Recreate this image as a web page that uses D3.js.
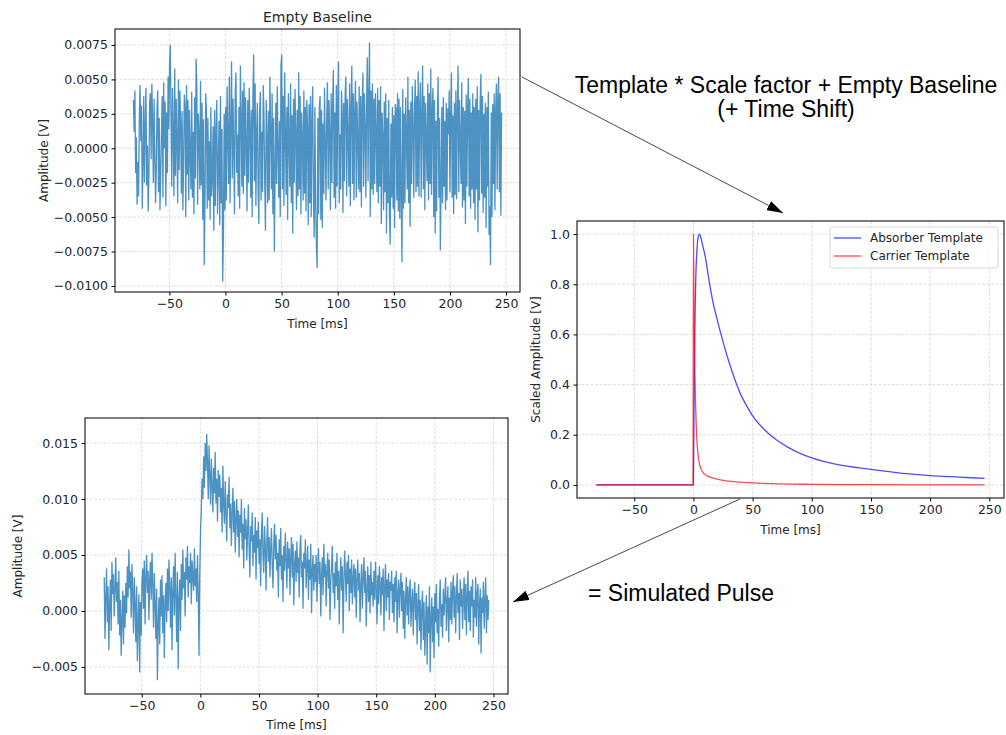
<!DOCTYPE html>
<html>
<head>
<meta charset="utf-8">
<script src="https://cdn.jsdelivr.net/npm/d3@7"></script>
<style>
  body { margin: 0; background: #fff; }
  text { font-family: "DejaVu Sans", sans-serif; fill: #262626; }
  .note { font-family: "Liberation Sans", Arial, sans-serif; fill: #000; font-size: 23px; }
</style>
</head>
<body>
<div id="container"></div>
<script>
"use strict";

// Sampled record: first and last sample time in ms.
const sampleStart = -82;
const sampleEnd = 246;

const timeTicks = [-50, 0, 50, 100, 150, 200, 250];
const baselineTicks = [-0.01, -0.0075, -0.005, -0.0025, 0, 0.0025, 0.005, 0.0075];
const pulseTicks = [-0.005, 0, 0.005, 0.01, 0.015];
const templateTicks = [0, 0.2, 0.4, 0.6, 0.8, 1.0];

// Empty baseline, in units of 0.1 mV.
const baselineNoise = [
  35, 12, 42, -18, 8, -41, -10, -35, 20, 46, 5, 31, -44, -12, 38, -25, 15, 44, -27, 2, -46, -20, 33, 40, -8,
  47, 18, -25, 36, -5, -40, -15, 29, 42, -32, 22, -45, -20, 10, 38, -36, 48, 0, 34, -42, 26, -18, 52, 14, 60,
  75, 20, -28, 44, 10, -35, 58, -20, 36, 5, -40, 50, -16, 42, 18, -33, 27, -45, -12, 39, 31, -50, 46, -19, 35,
  -38, 28, -5, -30, 41, -36, 12, -48, 37, -22, 65, 44, -41, 25, 10, -30, 49, -27, 33, -52, 21, -85, -39, 40, 26,
  -44, 22, -38, 5, -52, 30, -35, -20, 16, -60, 28, -42, 12, 35, -48, -15, 20, -56, 38, -40, 14, -97, -62, 25, -45,
  30, -38, 45, 8, -26, 52, -40, 18, 63, -22, 36, 0, -48, 40, 55, -18, 10, -35, 30, -44, 60, 22, -28, 42, -33,
  48, -20, 37, 5, -46, 35, -25, 44, 15, -36, 28, -50, 39, 68, -24, 47, -42, 10, 33, -30, -55, 26, 41, -38, 12,
  -32, 46, 20, -25, -60, 35, 8, -40, 27, -38, 52, 14, -30, 40, -48, 22, -75, -20, 33, -26, 45, 0, -36, 20, -50,
  60, 68, -30, 38, -42, 55, 10, -34, 30, -52, 40, 5, -28, 47, -40, 24, -62, 36, -25, 43, 12, -45, 28, -35, 55,
  -30, 38, -48, 26, 8, -38, 42, -33, 30, -46, 35, 15, -56, 32, -40, 38, -50, 20, 45, -35, -65, 30, -42, -70, -87,
  22, -48, 30, 38, -52, 28, -58, 18, -33, 44, 5, -38, 22, 48, -30, 35, 12, -45, 40, -25, 32, 57, -36, 26, -44,
  46, -28, 36, 63, -40, 10, -30, 42, 25, -47, 33, -24, 40, 52, -35, 36, 8, -28, 47, -42, 30, 60, -26, 40, -38,
  27, 49, -36, 34, 5, -30, 45, -32, 38, -43, 32, 55, -28, 40, 18, -36, 30, 66, -24, 38, 77, -50, 42, -30, 47,
  -34, 36, -26, 40, 12, -32, 44, -40, 35, -28, 45, -55, 26, 8, -45, 34, -32, 40, -62, 22, -40, 35, -48, -70, 18,
  -36, 30, -44, 24, -58, 32, 28, -38, 40, -46, 36, -51, 30, -38, -83, 43, -44, 25, -40, 37, 10, -30, 52, -40, 28,
  -57, 34, -26, 45, 15, -36, 29, 50, -32, 38, -28, 56, -35, 30, 48, -36, 25, 60, -30, 38, -45, 33, 5, -24, 47,
  -38, 40, -26, 58, -34, 28, 44, -50, 35, -62, 20, -46, 25, 52, -36, 22, -74, -30, 30, -40, 37, -28, 20, -45, 33,
  -38, 29, 10, 42, -32, 26, 55, -36, 24, -48, 33, -34, 42, -37, 28, 60, -32, 35, 5, -26, 48, -43, 30, -38, 27,
  -55, 39, -28, 31, 51, -35, 36, -44, 26, -30, 40, -40, 30, -52, 36, -30, 45, -61, 28, -38, 35, 54, -33, 38, -47,
  25, -36, 33, -58, 30, -28, 41, -63, -42, -85, 26, -50, 32, -26, 40, -45, 28, 47, -30, 36, 52, -32, 40, -49, 26
];

// Simulated pulse, in units of 0.1 mV.
const pulseSignal = [
  30, -25, 12, 38, -10, 22, -35, 5, 28, -18, 44, 15, 33, -5, 20, 48, 8, 26, -12, 36, -22, 10, -40, -8, 18,
  -30, 14, -15, 25, -2, 40, 12, 55, 20, 35, -6, 42, 18, -20, 30, 5, -28, 22, -45, -10, 15, -55, 8, -22, 26,
  38, 2, 45, -12, 30, 50, 16, 36, -8, 28, 44, 10, 52, 24, -15, 34, 6, -25, 20, -62, -14, 12, -30, 28, -5,
  32, -20, 14, -42, 8, 25, -10, 38, 0, 46, 22, -15, 30, -35, 18, 40, -4, 52, 12, -28, 35, -52, 10, 28, -18,
  42, 10, 55, 20, 35, -5, 48, 28, 58, 12, 40, 25, 52, 6, 45, 30, 18, 56, 22, 38, 8, 50, 15, -40, 34,
  72, 90, 118, 100, 138, 110, 150, 125, 158, 132, 100, 148, 120, 95, 136, 112, 88, 128, 105, 142, 96, 118, 80, 126, 102,
  122, 88, 110, 70, 130, 95, 78, 116, 85, 62, 104, 92, 120, 74, 96, 58, 88, 110, 70, 98, 52, 84, 100, 66, 90,
  48, 86, 70, 100, 55, 78, 38, 92, 64, 82, 45, 70, 95, 58, 30, 76, 62, 88, 40, 68, 52, 84, 28, 72, 56,
  80, 42, 64, 22, 70, 88, 50, 34, 76, 58, 18, 62, 84, 44, 66, 30, 56, 74, 40, 20, 60, 78, 46, 68, 36,
  52, 12, 64, 40, 74, 28, 50, 8, 58, 36, 70, 46, 20, 62, 38, 56, 14, 48, 66, 30, 60, 5, 42, 54, 26,
  62, 34, 48, 12, 56, 68, 30, 44, 2, 52, 38, 64, 20, 40, 58, 10, 46, 28, 60, -2, 36, 50, 18, 42, 26,
  50, 8, 38, 56, 24, 44, -5, 32, 48, 14, 60, 30, 42, 4, 36, 52, 20, 46, -8, 28, 40, 58, 16, 34, 2,
  44, 22, 52, 10, 36, -12, 30, 48, 18, 40, -20, 26, 54, 32, 8, 44, 24, 50, 0, 38, 16, 46, 6, 30, 42,
  12, 38, -6, 28, 46, 18, 34, -10, 24, 42, 2, 30, 48, 16, 36, -14, 20, 40, 8, 32, -2, 44, 14, 26, 4,
  36, 10, 44, 20, -12, 32, 6, 40, 24, -4, 30, 14, 38, -18, 22, 42, 0, 28, 12, 34, -8, 26, 18, 36, -2,
  24, -10, 30, 8, 36, -20, 14, 28, -6, 20, 34, 0, 26, -16, 18, -25, 10, 30, -4, 22, -12, 16, 28, -14, 8,
  20, -22, 12, 26, -8, 16, -30, 6, 24, -18, 10, -35, 2, 18, -26, 8, -40, -12, 14, -48, 4, -20, 22, -55, -6,
  12, -28, 4, -42, 16, -10, 24, -20, 2, -32, 10, 28, -14, 6, -24, 20, -4, 14, 30, -18, 8, 22, -28, 12, -8,
  26, -12, 18, 32, -6, 22, -20, 12, 34, -2, 16, -26, 28, 4, 20, -16, 10, 30, -8, 24, -22, 14, 36, -10, 18,
  -18, 22, 4, 28, -24, 10, -6, 30, -14, 16, 24, -30, 6, 20, -38, 12, -2, 26, -16, 8, 30, -20, 14, -8, 10
];

// Normalised templates (time in ms, amplitude).
const absorberTime = [-82, -0.5, 0, 0.5, 1, 1.5, 2, 3, 4, 5, 6, 7.5, 10, 13, 16, 20, 25, 30, 35, 40, 45, 50,
  60, 70, 80, 90, 100, 120, 140, 160, 180, 200, 225, 246];
const absorberValue = [0, 0, 0, 0.3, 0.55, 0.72, 0.83, 0.94, 0.99, 1.0, 0.99, 0.96, 0.91, 0.82, 0.74, 0.66, 0.57,
  0.49, 0.42, 0.36, 0.315, 0.275, 0.22, 0.18, 0.15, 0.126, 0.108, 0.083, 0.068, 0.056, 0.045, 0.037, 0.031, 0.026];
const carrierTime = [-82, -0.4, 0, 0.4, 0.8, 1.2, 1.6, 2, 2.5, 3, 4, 5, 6, 8, 10, 13, 16, 20, 25, 30, 40, 50,
  60, 75, 100, 125, 150, 200, 246];
const carrierValue = [0, 0, 1.0, 0.78, 0.6, 0.46, 0.36, 0.29, 0.22, 0.17, 0.115, 0.085, 0.068, 0.05, 0.041,
  0.033, 0.028, 0.023, 0.018, 0.015, 0.011, 0.008, 0.006, 0.004, 0.0025, 0.0015, 0.001, 0.0003, 0];

const legendNames = ["Absorber Template", "Carrier Template"];

const width = 1006;
const height = 735;
const fontSize = 12.5;
const timeDomain = [-98.4, 262.4];

const svg = d3.select("#container").append("svg").attr("width", width).attr("height", height);
svg.append("rect").attr("width", width).attr("height", height).attr("fill", "#fff");

function drawPanel(p) {
  const x = d3.scaleLinear().domain(timeDomain).range([p.left, p.right]);
  const y = d3.scaleLinear().domain(p.yDomain).range([p.bottom, p.top]);
  const g = svg.append("g");

  // Grid lines.
  const grid = g.append("g").attr("stroke", "#b0b0b0").attr("stroke-width", 0.7)
    .attr("stroke-dasharray", "3,1.5").attr("opacity", 0.6);
  grid.selectAll(".vx").data(timeTicks).join("line")
    .attr("x1", (d) => x(d)).attr("x2", (d) => x(d)).attr("y1", p.top).attr("y2", p.bottom);
  grid.selectAll(".hy").data(p.yTicks).join("line")
    .attr("x1", p.left).attr("x2", p.right).attr("y1", (d) => y(d)).attr("y2", (d) => y(d));

  const plot = g.append("g");

  g.append("g")
    .attr("transform", `translate(0, ${p.bottom})`)
    .style("font-size", `${fontSize}px`)
    .call(d3.axisBottom(x).tickValues(timeTicks).tickFormat(d3.format("d")).tickSize(3.5).tickPadding(3.5))
    .call((a) => a.select(".domain").remove())
    .call((a) => a.selectAll("text").attr("font-family", "DejaVu Sans").attr("fill", "#262626"));

  g.append("g")
    .attr("transform", `translate(${p.left}, 0)`)
    .style("font-size", `${fontSize}px`)
    .call(d3.axisLeft(y).tickValues(p.yTicks).tickFormat(d3.format(p.yFormat)).tickSize(3.5).tickPadding(3.5))
    .call((a) => a.select(".domain").remove())
    .call((a) => a.selectAll("text").attr("font-family", "DejaVu Sans").attr("fill", "#262626"));

  g.append("rect")
    .attr("x", p.left).attr("y", p.top)
    .attr("width", p.right - p.left).attr("height", p.bottom - p.top)
    .attr("fill", "none").attr("stroke", "#111").attr("stroke-width", 1.1);

  g.append("text")
    .attr("x", (p.left + p.right) / 2).attr("y", p.xLabelY)
    .attr("text-anchor", "middle").attr("dominant-baseline", "middle")
    .style("font-size", "12px").text("Time [ms]");

  g.append("text")
    .attr("transform", `translate(${p.yLabelX}, ${(p.top + p.bottom) / 2}) rotate(-90)`)
    .attr("text-anchor", "middle").attr("dominant-baseline", "middle")
    .style("font-size", "12px").text(p.yLabel);

  if (p.title) {
    g.append("text")
      .attr("x", (p.left + p.right) / 2).attr("y", p.top - 7)
      .attr("text-anchor", "middle").style("font-size", "14px").text(p.title);
  }
  return { plot, x, y };
}

const sampleTime = (n) => d3.scaleLinear().domain([0, n - 1]).range([sampleStart, sampleEnd]);

function drawNoise(panel, values) {
  const t = sampleTime(values.length);
  const line = d3.line().x((d, i) => panel.x(t(i))).y((d) => panel.y(d * 1e-4));
  panel.plot.append("path")
    .datum(values)
    .attr("d", line)
    .attr("fill", "none")
    .attr("stroke", "#1f77b4")
    .attr("stroke-width", 1.3)
    .attr("stroke-linejoin", "bevel")
    .attr("stroke-opacity", 0.8);
}

// Empty baseline panel.
const baselinePanel = drawPanel({
  left: 115, right: 520, top: 29, bottom: 292,
  yDomain: [-0.01044, 0.00866], yTicks: baselineTicks, yFormat: ".4f",
  yLabel: "Amplitude [V]", yLabelX: 44, xLabelY: 324, title: "Empty Baseline"
});
drawNoise(baselinePanel, baselineNoise);

// Simulated pulse panel.
const pulsePanel = drawPanel({
  left: 85, right: 508, top: 418, bottom: 694,
  yDomain: [-0.00742, 0.01724], yTicks: pulseTicks, yFormat: ".3f",
  yLabel: "Amplitude [V]", yLabelX: 18, xLabelY: 725
});
drawNoise(pulsePanel, pulseSignal);

// Template panel.
const templatePanel = drawPanel({
  left: 577, right: 1004, top: 221, bottom: 498,
  yDomain: [-0.052, 1.052], yTicks: templateTicks, yFormat: ".1f",
  yLabel: "Scaled Amplitude [V]", yLabelX: 536, xLabelY: 530
});

const templates = [
  { time: absorberTime, value: absorberValue, color: "#0000ff" },
  { time: carrierTime, value: carrierValue, color: "#ff0000" }
];
for (const s of templates) {
  const line = d3.line()
    .x((d, i) => templatePanel.x(s.time[i]))
    .y((d) => templatePanel.y(d))
    .curve(d3.curveMonotoneX);
  templatePanel.plot.append("path")
    .datum(s.value)
    .attr("d", line)
    .attr("fill", "none")
    .attr("stroke", s.color)
    .attr("stroke-opacity", 0.7)
    .attr("stroke-width", 1.3);
}

// Legend.
const legend = svg.append("g").attr("transform", "translate(830, 227)");
legend.append("rect")
  .attr("width", 168).attr("height", 41).attr("rx", 2.5)
  .attr("fill", "#fff").attr("fill-opacity", 0.8)
  .attr("stroke", "#cccccc").attr("stroke-width", 0.8);
legend.selectAll(".entry").data(legendNames).join("g")
  .attr("transform", (d, i) => `translate(0, ${11 + i * 18})`)
  .each(function (d, i) {
    const e = d3.select(this);
    e.append("line").attr("x1", 4).attr("x2", 31)
      .attr("stroke", templates[i].color).attr("stroke-opacity", 0.7).attr("stroke-width", 1.3);
    e.append("text").attr("x", 40).attr("dominant-baseline", "middle")
      .style("font-size", "12px").text(d);
  });

// Annotations and arrows.
const defs = svg.append("defs");
defs.append("marker")
  .attr("id", "head").attr("viewBox", "0 0 16 10")
  .attr("refX", 16).attr("refY", 5)
  .attr("markerWidth", 16).attr("markerHeight", 10)
  .attr("markerUnits", "userSpaceOnUse").attr("orient", "auto")
  .append("path").attr("d", "M0,0 L16,5 L0,10 Z").attr("fill", "#000");

const arrows = [
  [[522, 77], [783, 213]],
  [[740, 499], [513, 602]]
];
svg.selectAll(".arrow").data(arrows).join("line")
  .attr("x1", (d) => d[0][0]).attr("y1", (d) => d[0][1])
  .attr("x2", (d) => d[1][0]).attr("y2", (d) => d[1][1])
  .attr("stroke", "#333").attr("stroke-width", 0.9)
  .attr("marker-end", "url(#head)");

svg.append("text").attr("class", "note")
  .attr("x", 786).attr("y", 93).attr("text-anchor", "middle")
  .text("Template * Scale factor + Empty Baseline");
svg.append("text").attr("class", "note")
  .attr("x", 786).attr("y", 117).attr("text-anchor", "middle")
  .text("(+ Time Shift)");
svg.append("text").attr("class", "note")
  .attr("x", 588).attr("y", 601)
  .text("= Simulated Pulse");
</script>
</body>
</html>
